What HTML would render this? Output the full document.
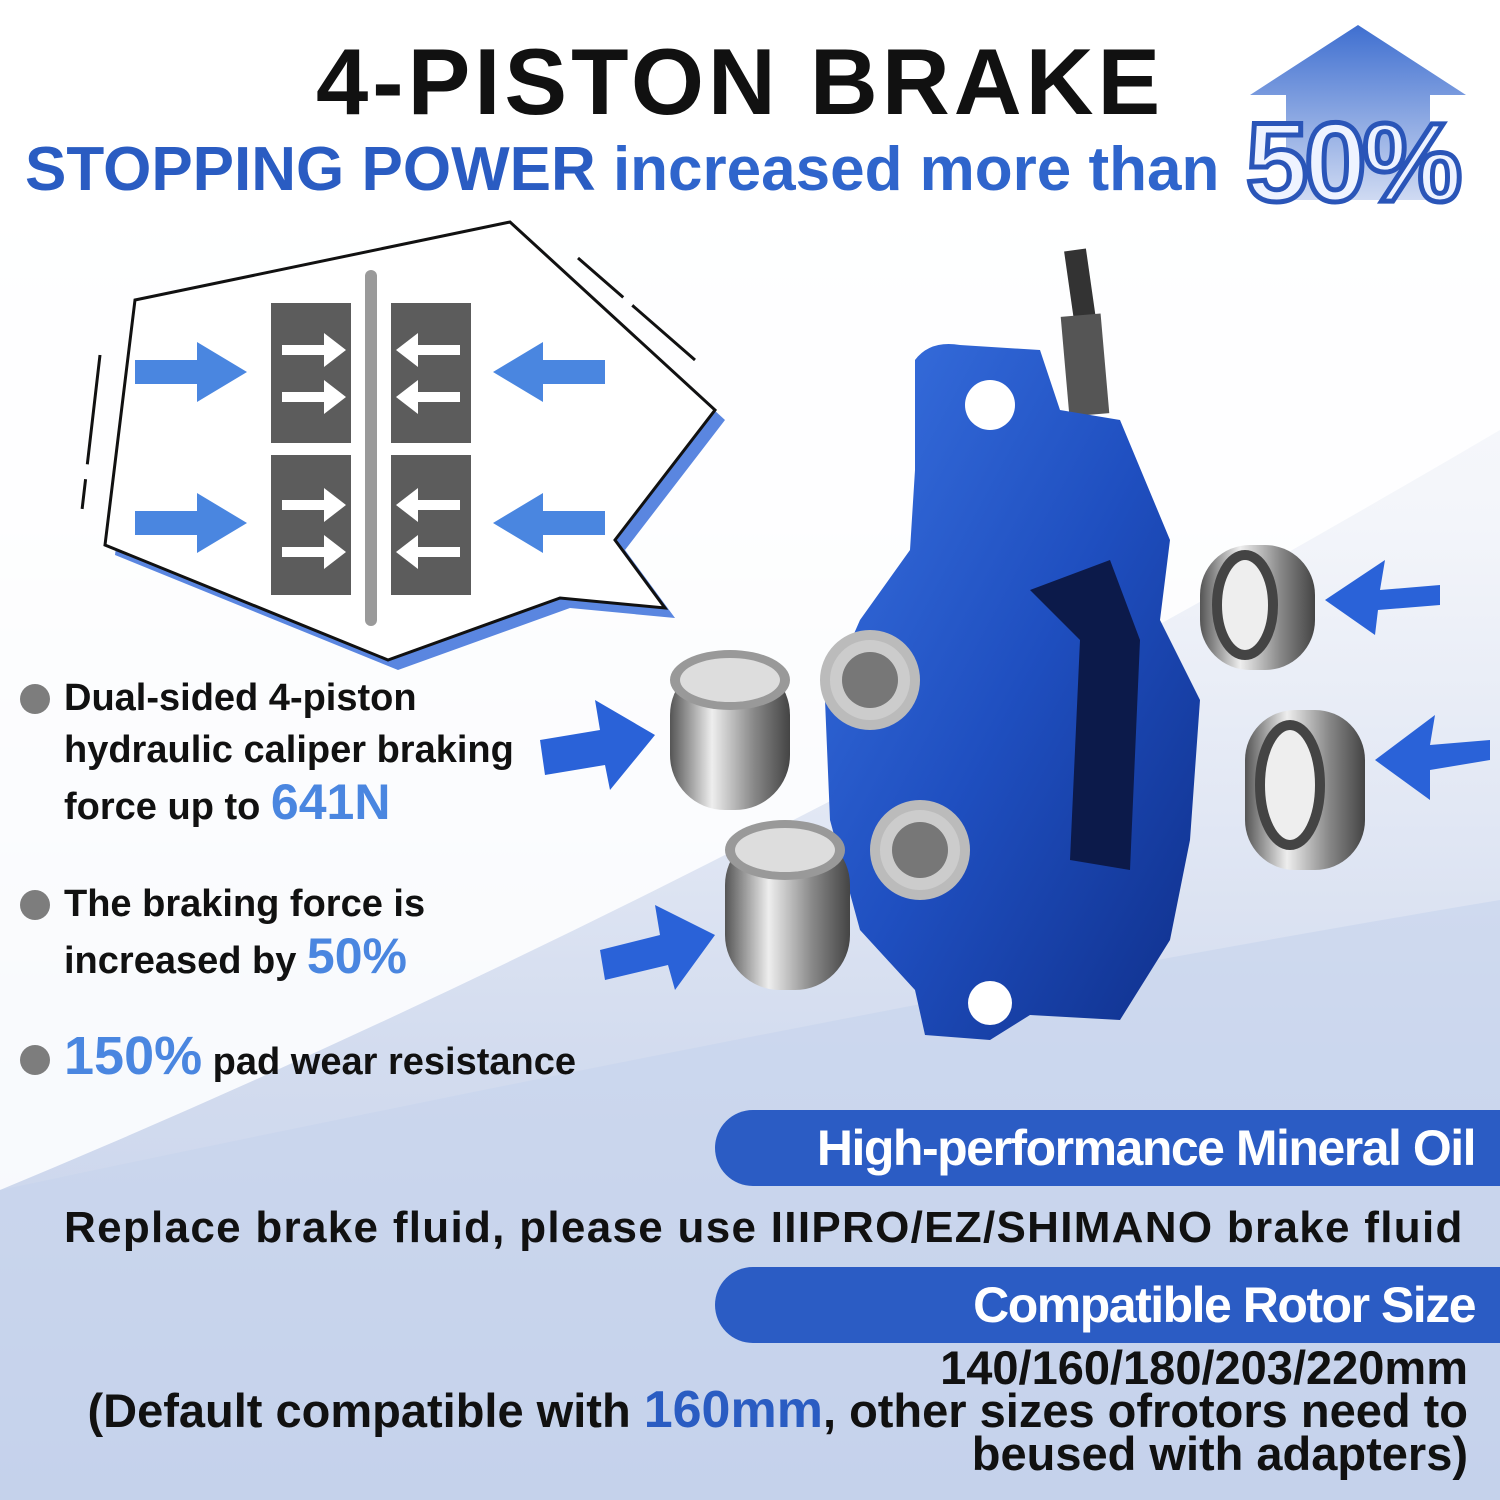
<!DOCTYPE html>
<html><head><meta charset="utf-8">
<style>
html,body{margin:0;padding:0}
body{width:1500px;height:1500px;position:relative;overflow:hidden;font-family:"Liberation Sans",sans-serif;background:#fff}
.t{position:absolute;white-space:nowrap;font-weight:bold}
.bar{position:absolute;left:715px;width:800px;height:76px;background:#2b5cc4;border-radius:38px 0 0 38px;color:#fff;font-weight:bold;font-size:50px;text-align:right;box-sizing:border-box;padding-right:40px;line-height:76px;letter-spacing:-1.5px}
.dot{position:absolute;width:30px;height:30px;border-radius:50%;background:#7d7d7d}
</style></head><body>
<svg width="1500" height="1500" style="position:absolute;left:0;top:0">
<defs>
<linearGradient id="bg" x1="0" y1="0" x2="0" y2="1">
<stop offset="0" stop-color="#ffffff"/><stop offset="0.35" stop-color="#f3f5fa"/><stop offset="0.7" stop-color="#d3dcef"/><stop offset="1" stop-color="#c3cfe9"/></linearGradient>
<linearGradient id="cyl" x1="0" y1="0" x2="1" y2="0">
<stop offset="0" stop-color="#555"/><stop offset="0.35" stop-color="#eee"/><stop offset="0.7" stop-color="#888"/><stop offset="1" stop-color="#444"/></linearGradient>
<linearGradient id="cal" x1="0" y1="0" x2="1" y2="1">
<stop offset="0" stop-color="#3a72e0"/><stop offset="0.5" stop-color="#1f4fc0"/><stop offset="1" stop-color="#0f2f8a"/></linearGradient>
<linearGradient id="up" x1="0" y1="0" x2="0" y2="1"><stop offset="0" stop-color="#3f6fd0"/><stop offset="1" stop-color="#cfdaf2"/></linearGradient>
</defs>
<rect width="1500" height="1500" fill="url(#bg)"/>
<path d="M0 1190 Q700 900 1500 430 L1500 0 L0 0 Z" fill="#fff" opacity="0.85"/>
<path d="M0 1190 Q900 1000 1500 900 L1500 1500 L0 1500Z" fill="#c7d3ec" opacity="0.6"/>
<polygon points="1250,95 1358,25 1466,95 1430,95 1430,200 1286,200 1286,95" fill="url(#up)"/>
<polygon points="145,310 520,232 725,420 625,550 675,618 570,608 398,670 115,555" fill="#5a86e0"/>
<polygon points="135,300 510,222 715,410 615,540 665,608 560,598 388,660 105,545" fill="#fff" stroke="#111" stroke-width="3"/>
<line x1="578" y1="258" x2="695" y2="360" stroke="#111" stroke-width="3" stroke-dasharray="60,12,100"/>
<line x1="100" y1="355" x2="82" y2="510" stroke="#111" stroke-width="3" stroke-dasharray="110,15,30"/>
<rect x="365" y="270" width="12" height="356" rx="6" fill="#9a9a9a"/>
<g fill="#5c5c5c"><rect x="271" y="303" width="80" height="140"/><rect x="391" y="303" width="80" height="140"/><rect x="271" y="455" width="80" height="140"/><rect x="391" y="455" width="80" height="140"/></g>
<g fill="#fff">
<path d="M282 345h42v-12l22 17-22 17v-12h-42z"/><path d="M282 392h42v-12l22 17-22 17v-12h-42z"/>
<path d="M282 500h42v-12l22 17-22 17v-12h-42z"/><path d="M282 547h42v-12l22 17-22 17v-12h-42z"/>
<path d="M460 345h-42v-12l-22 17 22 17v-12h42z"/><path d="M460 392h-42v-12l-22 17 22 17v-12h42z"/>
<path d="M460 500h-42v-12l-22 17 22 17v-12h42z"/><path d="M460 547h-42v-12l-22 17 22 17v-12h42z"/>
</g>
<g fill="#4a86e0">
<path d="M135 360h62v-18l50 30-50 30v-18h-62z"/><path d="M135 511h62v-18l50 30-50 30v-18h-62z"/>
<path d="M605 360h-62v-18l-50 30 50 30v-18h62z"/><path d="M605 511h-62v-18l-50 30 50 30v-18h62z"/>
</g>
<path d="M1075 250 L1085 320" stroke="#333" stroke-width="22"/>
<rect x="1065" y="315" width="40" height="100" fill="#555" transform="rotate(-5 1085 365)"/>
<path d="M915 360 Q930 340 960 345 L1040 350 L1060 410 L1120 420 L1170 540 L1160 620 L1200 700 L1190 840 L1170 940 L1120 1020 L1030 1015 L990 1040 L925 1035 L915 990 L860 930 L830 820 L825 700 L860 620 L910 550 L915 470 Z" fill="url(#cal)"/>
<circle cx="990" cy="405" r="25" fill="#fff"/><circle cx="990" cy="1003" r="22" fill="#fff"/>
<path d="M1030 590 L1110 560 L1140 640 L1130 870 L1070 860 L1080 640 Z" fill="#0c1a4a"/>
<circle cx="870" cy="680" r="45" fill="#ccc" stroke="#bbb" stroke-width="10"/><circle cx="870" cy="680" r="28" fill="#777"/>
<circle cx="920" cy="850" r="45" fill="#ccc" stroke="#bbb" stroke-width="10"/><circle cx="920" cy="850" r="28" fill="#777"/>
<g>
<rect x="670" y="660" width="120" height="150" rx="55" fill="url(#cyl)"/><ellipse cx="730" cy="680" rx="60" ry="30" fill="#999"/><ellipse cx="730" cy="680" rx="50" ry="22" fill="#ddd"/>
<rect x="725" y="830" width="125" height="160" rx="55" fill="url(#cyl)"/><ellipse cx="785" cy="850" rx="60" ry="30" fill="#999"/><ellipse cx="785" cy="850" rx="50" ry="22" fill="#ddd"/>
<rect x="1200" y="545" width="115" height="125" rx="50" fill="url(#cyl)"/><ellipse cx="1245" cy="605" rx="28" ry="50" fill="#eee" stroke="#444" stroke-width="10"/>
<rect x="1245" y="710" width="120" height="160" rx="50" fill="url(#cyl)"/><ellipse cx="1290" cy="785" rx="30" ry="60" fill="#eee" stroke="#444" stroke-width="10"/>
</g>
<g fill="#2a62d8">
<path d="M540 740 L600 730 L595 700 L655 735 L610 790 L605 765 L545 775Z"/>
<path d="M600 950 L660 935 L655 905 L715 935 L675 990 L668 965 L605 980Z"/>
<path d="M1440 585 L1380 590 L1385 560 L1325 600 L1375 635 L1378 610 L1440 605Z"/>
<path d="M1490 740 L1430 745 L1435 715 L1375 760 L1430 800 L1430 770 L1490 760Z"/>
</g>
</svg>
<div class="t" style="left:316px;top:28px;font-size:94px;font-weight:900;color:#111;letter-spacing:4px">4-PISTON BRAKE</div>
<div class="t" style="left:25px;top:134px;font-size:62px;color:#2a5cc2">STOPPING POWER <span style="color:#2f65cc">increased more than</span></div>
<div class="t" style="left:1246px;top:98px;font-size:112px;font-weight:900;color:#eef3ff;-webkit-text-stroke:5px #2a55b8;letter-spacing:-4px">50%</div>
<div class="dot" style="left:20px;top:684px"></div>
<div class="t" style="left:64px;top:672px;font-size:38px;line-height:52px;color:#111">Dual-sided 4-piston<br>hydraulic caliper braking<br>force up to <span style="color:#4a86e0;font-size:50px">641N</span></div>
<div class="dot" style="left:20px;top:890px"></div>
<div class="t" style="left:64px;top:878px;font-size:38px;line-height:52px;color:#111">The braking force is<br>increased by <span style="color:#4a86e0;font-size:50px">50%</span></div>
<div class="dot" style="left:20px;top:1045px"></div>
<div class="t" style="left:64px;top:1025px;font-size:38px;line-height:62px;color:#111"><span style="color:#4a86e0;font-size:54px">150%</span> pad wear resistance</div>
<div class="bar" style="top:1110px">High-performance Mineral Oil</div>
<div class="t" style="left:64px;top:1203px;font-size:44px;color:#111;letter-spacing:1.3px">Replace brake fluid, please use IIIPRO/EZ/SHIMANO brake fluid</div>
<div class="bar" style="top:1267px">Compatible Rotor Size</div>
<div class="t" style="right:32px;top:1346px;font-size:47px;line-height:43px;color:#111;text-align:right">140/160/180/203/220mm<br>(Default compatible with <span style="color:#2a5cc2;font-size:52px">160mm</span>, other sizes ofrotors need to<br>beused with adapters)</div>
</body></html>
